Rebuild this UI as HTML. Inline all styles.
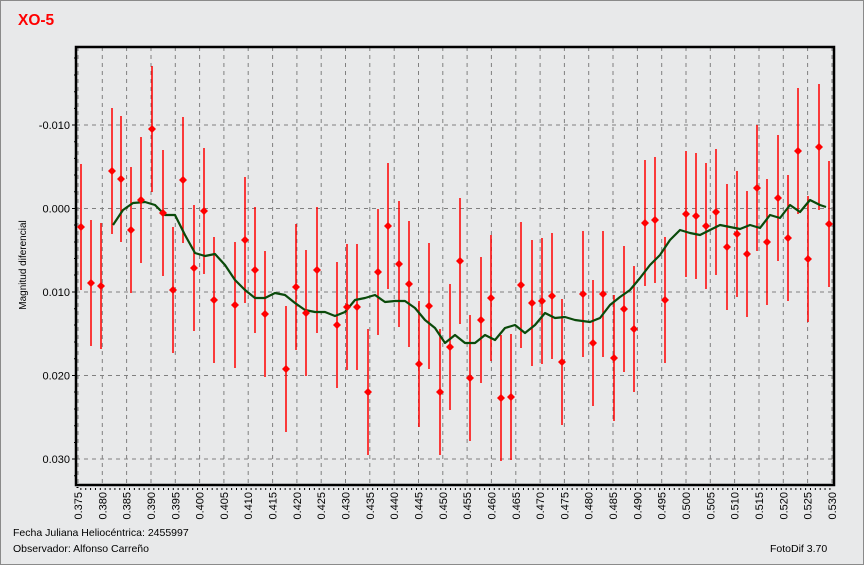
<!DOCTYPE html>
<html><head><meta charset="utf-8"><style>
body{margin:0;background:#e8e9ea;}
svg{display:block;font-family:"Liberation Sans",sans-serif;}
</style></head><body>
<svg width="864" height="565" viewBox="0 0 864 565" xmlns="http://www.w3.org/2000/svg">
<rect x="0.5" y="0.5" width="863" height="564" fill="#e8e9ea" stroke="#8a8a8a"/>
<text x="18" y="25" font-size="15.5" font-weight="bold" fill="#ff0000">XO-5</text>
<g stroke="#808080" stroke-dasharray="4,4" stroke-width="1">
<path d="M76 125H834M76 208.5H834M76 292H834M76 375.5H834M76 459H834"/>
<path d="M78 47V485M102.3 47V485M126.6 47V485M151 47V485M175.3 47V485M199.6 47V485M223.9 47V485M248.2 47V485M272.6 47V485M296.9 47V485M321.2 47V485M345.5 47V485M369.8 47V485M394.2 47V485M418.5 47V485M442.8 47V485M467.1 47V485M491.4 47V485M515.8 47V485M540.1 47V485M564.4 47V485M588.7 47V485M613 47V485M637.4 47V485M661.7 47V485M686 47V485M710.3 47V485M734.6 47V485M759 47V485M783.3 47V485M807.6 47V485M832 47V485"/>
</g>
<g stroke="#000" stroke-width="1">
<path d="M72 125H76M72 208.5H76M72 292H76M72 375.5H76M72 459H76M74 58H76M74 75H76M74 91.7H76M74 108.4H76M74 141.7H76M74 158.4H76M74 175H76M74 191.8H76M74 225H76M74 242H76M74 258.5H76M74 275H76M74 308.7H76M74 325H76M74 342H76M74 358.8H76M74 392H76M74 409H76M74 425.8H76M74 442.5H76M74 475.7H76"/>
<path d="M77.5 487V489H833" stroke-dasharray="1,3.864" stroke-width="2" fill="none"/>
</g>
<rect x="76" y="47" width="758" height="438" fill="none" stroke="#000" stroke-width="2.5"/>
<g font-size="11" fill="#000" text-anchor="end">
<text x="70" y="129">-0.010</text><text x="70" y="212.5">0.000</text><text x="70" y="296">0.010</text><text x="70" y="379.5">0.020</text><text x="70" y="463">0.030</text>
</g>
<text transform="translate(26,265) rotate(-90)" font-size="10" text-anchor="middle">Magnitud diferencial</text>
<g font-size="11" fill="#000" text-anchor="end">
<text transform="translate(82,492) rotate(-90)">0.375</text><text transform="translate(106.3,492) rotate(-90)">0.380</text><text transform="translate(130.6,492) rotate(-90)">0.385</text><text transform="translate(155,492) rotate(-90)">0.390</text><text transform="translate(179.3,492) rotate(-90)">0.395</text><text transform="translate(203.6,492) rotate(-90)">0.400</text><text transform="translate(227.9,492) rotate(-90)">0.405</text><text transform="translate(252.2,492) rotate(-90)">0.410</text><text transform="translate(276.6,492) rotate(-90)">0.415</text><text transform="translate(300.9,492) rotate(-90)">0.420</text><text transform="translate(325.2,492) rotate(-90)">0.425</text><text transform="translate(349.5,492) rotate(-90)">0.430</text><text transform="translate(373.8,492) rotate(-90)">0.435</text><text transform="translate(398.2,492) rotate(-90)">0.440</text><text transform="translate(422.5,492) rotate(-90)">0.445</text><text transform="translate(446.8,492) rotate(-90)">0.450</text><text transform="translate(471.1,492) rotate(-90)">0.455</text><text transform="translate(495.4,492) rotate(-90)">0.460</text><text transform="translate(519.8,492) rotate(-90)">0.465</text><text transform="translate(544.1,492) rotate(-90)">0.470</text><text transform="translate(568.4,492) rotate(-90)">0.475</text><text transform="translate(592.7,492) rotate(-90)">0.480</text><text transform="translate(617,492) rotate(-90)">0.485</text><text transform="translate(641.4,492) rotate(-90)">0.490</text><text transform="translate(665.7,492) rotate(-90)">0.495</text><text transform="translate(690,492) rotate(-90)">0.500</text><text transform="translate(714.3,492) rotate(-90)">0.505</text><text transform="translate(738.6,492) rotate(-90)">0.510</text><text transform="translate(763,492) rotate(-90)">0.515</text><text transform="translate(787.3,492) rotate(-90)">0.520</text><text transform="translate(811.6,492) rotate(-90)">0.525</text><text transform="translate(836,492) rotate(-90)">0.530</text>
</g>
<path fill="none" stroke="#ff0000" stroke-width="1.5" d="M81 164V290M91 220V346M101 223V349M112 108V234M121 116V242M131 167V293M141 137V263M152 66V192M163 150V276M173 227V353M183 117V243M194 205V331M204 148V274M214 237V363M235 242V368M245 177V303M255 207V333M265 251V377M286 306V432M296 224V350M306 250V376M317 207V333M337 262V388M347 244V370M357 244V370M368 329V455M378 209V335M388 163V289M399 201V327M409 221V347M419 301V427M429 243V369M440 329V455M450 284V410M460 198V324M470 315V441M481 257V383M491 235V361M501 335V461M511 334V460M521 222V348M532 240V366M542 238V364M552 233V359M562 299V425M583 231V357M593 280V406M603 231V357M614 295V421M624 246V372M634 266V392M645 160V286M655 157V283M665 237V363M686 151V277M696 153V279M706 163V289M716 149V275M727 184V310M737 171V297M747 191V317M757 125V251M767 179V305M778 135V261M788 175V301M798 88V214M808 196V322M819 84V210M829 161V287"/>
<path fill="none" stroke="#0a4a0a" stroke-width="2.2" stroke-linejoin="round" d="M113 225L123 210L133 203L145 202L155 205L165 215L175 215L185 235L195 253L205 256L215 254L225 265L235 280L245 290L255 298L265 298L275 293L285 295L295 303L305 310L315 312L325 312L335 316L345 312L355 300L365 298L375 295L385 302L395 301L405 301L415 308L425 320L435 328L445 343L455 335L465 343L475 343L485 335L495 340L505 328L515 325L525 333L535 325L545 313L555 318L565 317L575 320L590 322L600 318L610 305L620 297L630 290L640 278L650 265L660 255L670 240L680 230L690 233L700 235L710 230L720 225L730 227L740 229L750 225L760 228L770 215L780 218L790 205L800 212L810 200L820 205L826 207"/>
<g fill="#ff0000">
<path d="M81 223l4 4-4 4-4-4zM91 279l4 4-4 4-4-4zM101 282l4 4-4 4-4-4zM112 167l4 4-4 4-4-4zM121 175l4 4-4 4-4-4zM131 226l4 4-4 4-4-4zM141 196l4 4-4 4-4-4zM152 125l4 4-4 4-4-4zM163 209l4 4-4 4-4-4zM173 286l4 4-4 4-4-4zM183 176l4 4-4 4-4-4zM194 264l4 4-4 4-4-4zM204 207l4 4-4 4-4-4zM214 296l4 4-4 4-4-4zM235 301l4 4-4 4-4-4zM245 236l4 4-4 4-4-4zM255 266l4 4-4 4-4-4zM265 310l4 4-4 4-4-4zM286 365l4 4-4 4-4-4zM296 283l4 4-4 4-4-4zM306 309l4 4-4 4-4-4zM317 266l4 4-4 4-4-4zM337 321l4 4-4 4-4-4zM347 303l4 4-4 4-4-4zM357 303l4 4-4 4-4-4zM368 388l4 4-4 4-4-4zM378 268l4 4-4 4-4-4zM388 222l4 4-4 4-4-4zM399 260l4 4-4 4-4-4zM409 280l4 4-4 4-4-4zM419 360l4 4-4 4-4-4zM429 302l4 4-4 4-4-4zM440 388l4 4-4 4-4-4zM450 343l4 4-4 4-4-4zM460 257l4 4-4 4-4-4zM470 374l4 4-4 4-4-4zM481 316l4 4-4 4-4-4zM491 294l4 4-4 4-4-4zM501 394l4 4-4 4-4-4zM511 393l4 4-4 4-4-4zM521 281l4 4-4 4-4-4zM532 299l4 4-4 4-4-4zM542 297l4 4-4 4-4-4zM552 292l4 4-4 4-4-4zM562 358l4 4-4 4-4-4zM583 290l4 4-4 4-4-4zM593 339l4 4-4 4-4-4zM603 290l4 4-4 4-4-4zM614 354l4 4-4 4-4-4zM624 305l4 4-4 4-4-4zM634 325l4 4-4 4-4-4zM645 219l4 4-4 4-4-4zM655 216l4 4-4 4-4-4zM665 296l4 4-4 4-4-4zM686 210l4 4-4 4-4-4zM696 212l4 4-4 4-4-4zM706 222l4 4-4 4-4-4zM716 208l4 4-4 4-4-4zM727 243l4 4-4 4-4-4zM737 230l4 4-4 4-4-4zM747 250l4 4-4 4-4-4zM757 184l4 4-4 4-4-4zM767 238l4 4-4 4-4-4zM778 194l4 4-4 4-4-4zM788 234l4 4-4 4-4-4zM798 147l4 4-4 4-4-4zM808 255l4 4-4 4-4-4zM819 143l4 4-4 4-4-4zM829 220l4 4-4 4-4-4z"/>
</g>
<g font-size="10.5" fill="#000">
<text x="13" y="536">Fecha Juliana Heliocéntrica: 2455997</text>
<text x="13" y="552">Observador: Alfonso Carreño</text>
<text x="770" y="552">FotoDif 3.70</text>
</g>
</svg>
</body></html>
